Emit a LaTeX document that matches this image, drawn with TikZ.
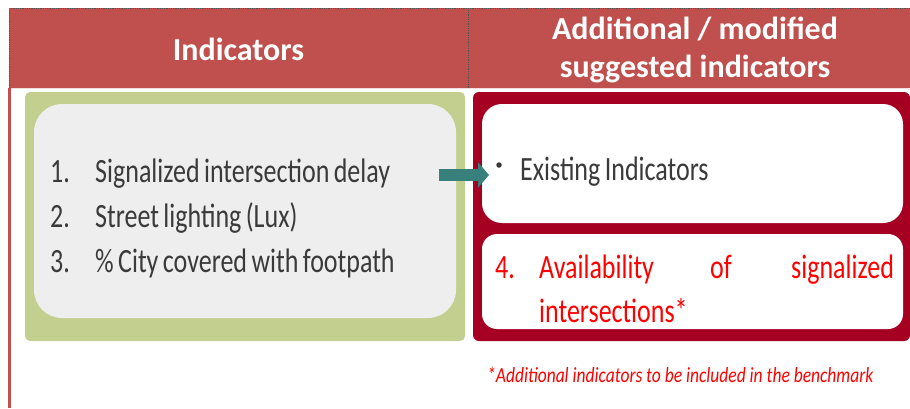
\documentclass[tikz,border=0pt]{standalone}
\usepackage{fontspec}
\setmainfont{Carlito}
\newfontfamily\cond[FakeStretch=0.765,WordSpace=0.75]{Carlito}
\newfontfamily\condnote[FakeStretch=0.81]{Carlito}
\usetikzlibrary{arrows.meta}
\definecolor{hdr}{HTML}{C0504D}
\definecolor{grn}{HTML}{C3CF8E}
\definecolor{gry}{HTML}{EEEEEE}
\definecolor{dred}{HTML}{A50021}
\definecolor{tealarrow}{HTML}{37807B}
\definecolor{txt}{HTML}{3A3A3A}
\definecolor{redt}{HTML}{FF0000}
\definecolor{dotc}{HTML}{555555}
\begin{document}
\begin{tikzpicture}[x=1pt,y=-1pt,
  box/.style={anchor=north west, inner sep=0pt, outer sep=0pt},
  hdrtext/.style={text=white, inner sep=0pt, font=\fontsize{32}{38}\selectfont\bfseries, align=center},
  body/.style={anchor=base west, inner sep=0pt, text=txt, font=\cond\fontsize{34}{40}\selectfont},
  redbody/.style={body, text=redt},
  dotline/.style={dotc, densely dotted, line width=0.8pt},
  arrowstyle/.style={tealarrow, line width=12pt, -{Triangle[length=11pt,width=25pt]}}
]
\useasboundingbox (0,0) rectangle (910,408);
% header band
\node[box, fill=hdr, minimum width=901pt, minimum height=80pt] (header) at (9,8) {};
\draw[dotline] (9,8) -- (910,8);
\draw[dotline] (9,8) -- (9,88);
\draw[dotline] (468,10) -- (468,88);
\draw[white!80!hdr, line width=0.8pt] (11,88.5) -- (910,88.5);
\node[hdrtext, anchor=base] (h1) at (238.5,60) {Indicators};
\node[hdrtext, anchor=base] (h2a) at (695,39) {Additional / modified};
\node[hdrtext, anchor=base] (h2b) at (695,77) {suggested indicators};
% left red rule
\draw[hdr, line width=3pt] (9.5,88) -- (9.5,408);
% left green panel
\node[box, fill=grn, rounded corners=5pt, minimum width=440pt, minimum height=249pt] (green) at (25,92) {};
\node[box, fill=gry, rounded corners=28pt, minimum width=422pt, minimum height=214pt] (gray) at (34,104) {};
\node[body] (n1) at (50,182) {1.};
\node[body] (t1) at (95,182) {Signalized intersection delay};
\node[body] (n2) at (50,227) {2.};
\node[body] (t2) at (95,227) {Street lighting (Lux)};
\node[body] (n3) at (50,272) {3.};
\node[body] (t3) at (95,272) {\% City covered with footpath};
% right dark red panel
\node[box, fill=dred, rounded corners=6pt, minimum width=437pt, minimum height=249pt] (redpanel) at (473,92) {};
\node[box, fill=white, rounded corners=20pt, minimum width=421pt, minimum height=119pt] (exist) at (482,104) {};
\node[box, fill=white, rounded corners=15pt, minimum width=421pt, minimum height=95pt] (addl) at (482,234) {};
\node[circle, fill=txt, inner sep=0pt, minimum size=5.5pt] (bullet) at (499,165) {};
\node[body] (ex) at (520,180) {Existing Indicators};
\node[redbody] (n4) at (495,278) {4.};
\node[redbody] (w1) at (539,278) {Availability};
\node[redbody] (w2) at (710,278) {of};
\node[redbody] (w3) at (791,278) {signalized};
\node[redbody] (w4) at (539,322) {intersections*};
% arrow
\coordinate (arrS) at (439,175);
\coordinate (arrE) at (489,175);
\draw[arrowstyle] (arrS) -- (arrE);
% footnote
\node[anchor=base west, inner sep=0pt, text=redt, font=\condnote\itshape\fontsize{21.6}{26}\selectfont] (note) at (487,382) {*Additional indicators to be included in the benchmark};
\end{tikzpicture}
\end{document}
